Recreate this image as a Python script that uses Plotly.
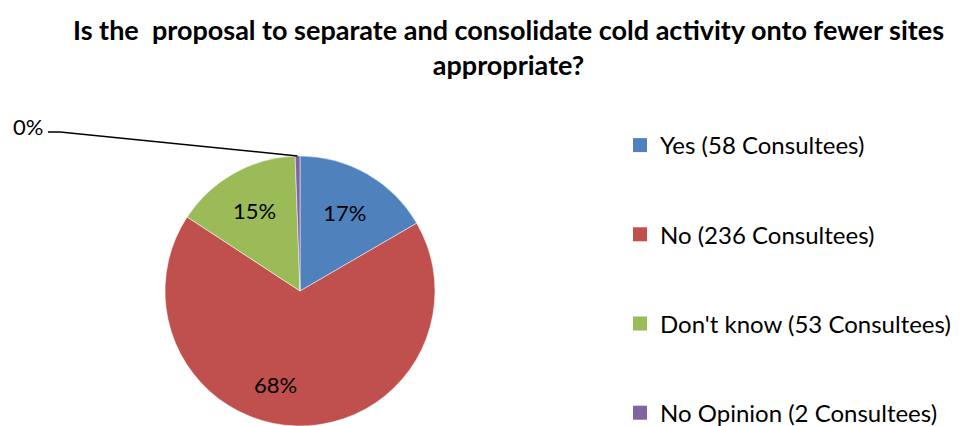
import math
import plotly.graph_objects as go

# Survey responses
categories = ["Yes (58 Consultees)", "No (236 Consultees)",
              "Don't know (53 Consultees)", "No Opinion (2 Consultees)"]
counts = [58, 236, 53, 2]
pct_labels = ["17%", "68%", "15%", "0%"]
colors = ["#4F81BD", "#C0504D", "#9BBB59", "#8064A2"]

W, H = 962, 426
FONT = "Lato, 'Open Sans', sans-serif"
LABEL_FONT = dict(family=FONT, size=22, color="black")

# Pie placement (pixels)
cx, cy, r = 300, 291, 135
dom_x = [(cx - r) / W, (cx + r) / W]
dom_y = [(H - cy - r) / H, (H - cy + r) / H]

fig = go.Figure()
fig.add_trace(go.Pie(
    labels=categories,
    values=counts,
    text=pct_labels,
    textinfo="text",
    textposition=["inside", "none", "inside", "none"],
    insidetextorientation="horizontal",
    textfont=LABEL_FONT,
    marker=dict(colors=colors, line=dict(color="white", width=0.5)),
    sort=False,
    direction="clockwise",
    rotation=0,
    domain=dict(x=dom_x, y=dom_y),
    showlegend=False,
    hoverinfo="label+value+percent",
))

# Legend entries, one group each so they can be spaced apart
for i, (name, col) in enumerate(zip(categories, colors)):
    fig.add_trace(go.Scatter(
        x=[None], y=[None], mode="markers", name=name,
        marker=dict(symbol="square", size=14, color=col),
        legendgroup=f"g{i}", showlegend=True,
    ))

# Label of the large "No" slice, set lower in the slice
fig.add_annotation(x=275 / W, y=1 - 384 / H, xref="paper", yref="paper",
                   text=pct_labels[1], showarrow=False,
                   xanchor="center", yanchor="middle", font=LABEL_FONT)

# Leader line for the tiny "No Opinion" slice
total = sum(counts)
mid = (total - counts[-1] / 2) / total * 2 * math.pi
px = cx + r * math.sin(mid)
py = cy - r * math.cos(mid)
lx0, ly0, lx1 = 48, 132, 60
path = f"M {lx0/W} {1-ly0/H} L {lx1/W} {1-ly0/H} L {px/W} {1-py/H}"
fig.add_shape(type="path", path=path, xref="paper", yref="paper",
              line=dict(color="black", width=1.5))
fig.add_annotation(x=45 / W, y=1 - 127 / H, xref="paper", yref="paper",
                   text=pct_labels[-1], showarrow=False, xanchor="right",
                   yanchor="middle", font=LABEL_FONT)

# Chart title
fig.add_annotation(
    x=508 / W, y=1 - 11 / H, xref="paper", yref="paper",
    xanchor="center", yanchor="top", showarrow=False,
    text="<b>Is the  proposal to separate and consolidate cold activity onto fewer sites<br>appropriate?</b>",
    font=dict(family=FONT, size=27, color="black"),
)

fig.update_layout(
    width=W, height=H,
    margin=dict(l=0, r=0, t=0, b=0, autoexpand=False),
    paper_bgcolor="white", plot_bgcolor="white",
    font=dict(family=FONT, color="black"),
    xaxis=dict(visible=False),
    yaxis=dict(visible=False),
    legend=dict(
        x=620 / W, y=1 - 123 / H, xanchor="left", yanchor="top",
        font=dict(family=FONT, size=24, color="black"),
        tracegroupgap=55, itemsizing="trace", bgcolor="rgba(0,0,0,0)",
    ),
)

fig.write_html("out.html")
